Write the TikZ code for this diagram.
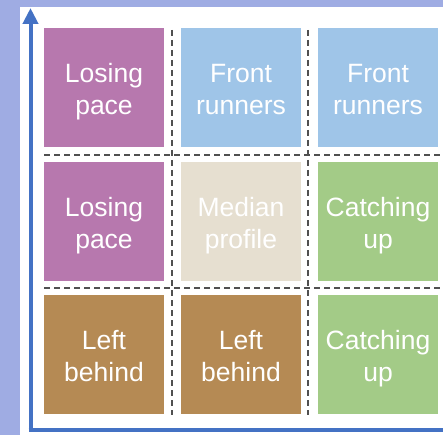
\documentclass[tikz,border=0pt]{standalone}
\usepackage{fontspec}
\setmainfont{Liberation Sans}
\usetikzlibrary{arrows.meta}
\definecolor{bgl}{HTML}{9FACE3}
\definecolor{axisblue}{HTML}{4472C4}
\definecolor{cpurple}{HTML}{B778AE}
\definecolor{cblue}{HTML}{9FC5E8}
\definecolor{cbeige}{HTML}{E6DFD0}
\definecolor{cgreen}{HTML}{A3CB87}
\definecolor{cbrown}{HTML}{B58A54}
\definecolor{dashgray}{HTML}{505050}
\newcommand{\topstrut}{\rule{0pt}{28.5pt}}
\newcommand{\botstrut}{\rule[-7pt]{0pt}{7pt}}
\tikzset{
  cell/.style={draw=none, minimum width=120pt, minimum height=119pt, inner sep=0pt,
    align=center, text=white, font=\fontsize{26.5}{32}\selectfont},
  divider/.style={draw=dashgray, line width=1.3pt, dash pattern=on 6pt off 4pt},
  axis/.style={draw=axisblue, line width=4pt}
}
\begin{document}
\begin{tikzpicture}[x=1pt,y=-1pt]
\useasboundingbox (0,0) rectangle (443,435);
\fill[bgl] (0,0) rectangle (443,435);
\fill[white] (20,7) rectangle (443,435);
% dashed dividers
\coordinate (v1t) at (172,30); \coordinate (v1b) at (172,415);
\coordinate (v2t) at (308,30); \coordinate (v2b) at (308,415);
\coordinate (h1l) at (44,155); \coordinate (h1r) at (443,155);
\coordinate (h2l) at (44,288); \coordinate (h2r) at (443,288);
\draw[divider] (v1t) -- (v1b);
\draw[divider] (v2t) -- (v2b);
\draw[divider] (h1l) -- (h1r);
\draw[divider] (h2l) -- (h2r);
% cells
\node[cell, fill=cpurple] (c11) at (104,87.5) {\topstrut Losing\\pace\botstrut};
\node[cell, fill=cblue] (c12) at (241,87.5) {\topstrut Front\\runners\botstrut};
\node[cell, fill=cblue] (c13) at (378,87.5) {\topstrut Front\\runners\botstrut};
\node[cell, fill=cpurple] (c21) at (104,221.5) {\topstrut Losing\\pace\botstrut};
\node[cell, fill=cbeige] (c22) at (241,221.5) {\topstrut Median\\profile\botstrut};
\node[cell, fill=cgreen] (c23) at (378,221.5) {\topstrut Catching\\up\botstrut};
\node[cell, fill=cbrown] (c31) at (104,354.5) {\topstrut Left\\behind\botstrut};
\node[cell, fill=cbrown] (c32) at (241,354.5) {\topstrut Left\\behind\botstrut};
\node[cell, fill=cgreen] (c33) at (378,354.5) {\topstrut Catching\\up\botstrut};
% axes
\coordinate (origin) at (30.5,429.5);
\coordinate (ytop) at (30.5,8);
\coordinate (xend) at (443,429.5);
\draw[axis, -{Triangle[length=16pt,width=15pt]}] (origin) -- (ytop);
\draw[axis] ([xshift=-2pt]origin) -- (xend);
\end{tikzpicture}
\end{document}
